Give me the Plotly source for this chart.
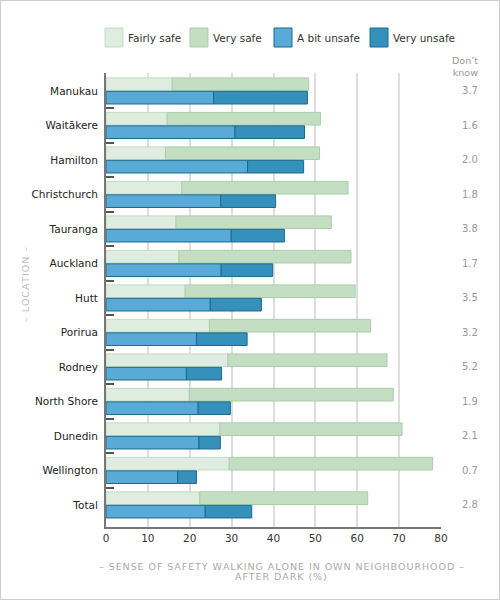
import plotly.graph_objects as go

locations = ["Manukau", "Waitākere", "Hamilton", "Christchurch", "Tauranga", "Auckland",
             "Hutt", "Porirua", "Rodney", "North Shore", "Dunedin", "Wellington", "Total"]
fairly_safe = [15.8, 14.6, 14.2, 18.1, 16.7, 17.4, 18.9, 24.7, 29.1, 19.9, 27.2, 29.4, 22.4]
very_safe = [32.6, 36.6, 36.8, 39.7, 37.1, 41.1, 40.6, 38.5, 38.0, 48.7, 43.5, 48.6, 40.1]
bit_unsafe = [25.7, 30.8, 33.8, 27.4, 29.9, 27.5, 24.9, 21.6, 19.2, 22.0, 22.2, 17.1, 23.7]
very_unsafe = [22.4, 16.6, 13.4, 13.1, 12.7, 12.3, 12.2, 12.1, 8.4, 7.7, 5.1, 4.5, 11.1]
dont_know = ["3.7", "1.6", "2.0", "1.8", "3.8", "1.7", "3.5", "3.2", "5.2", "1.9", "2.1", "0.7", "2.8"]

series_names = ["Fairly safe", "Very safe", "A bit unsafe", "Very unsafe"]
fills = ["#deeddf", "#c4dec4", "#5aaad7", "#3590bc"]
lines = ["#c3dcc3", "#a9cea9", "#1b6a8c", "#1b6a8c"]

W, H = 500, 600
L, R, T, B = 106, 59, 73, 73
PW, PH = W - L - R, H - T - B

def px(x):
    return (x - L) / PW

def py(y):
    return 1 - (y - T) / PH

def spaced(s, sep="\u200a"):
    return sep.join(list(s))

fig = go.Figure()
fig.add_trace(go.Bar(y=locations, x=fairly_safe, orientation="h", name=series_names[0],
                     offsetgroup="safe", marker=dict(color=fills[0], line=dict(color=lines[0], width=1))))
fig.add_trace(go.Bar(y=locations, x=very_safe, base=fairly_safe, orientation="h", name=series_names[1],
                     offsetgroup="safe", marker=dict(color=fills[1], line=dict(color=lines[1], width=1))))
fig.add_trace(go.Bar(y=locations, x=bit_unsafe, orientation="h", name=series_names[2],
                     offsetgroup="unsafe", marker=dict(color=fills[2], line=dict(color=lines[2], width=1))))
fig.add_trace(go.Bar(y=locations, x=very_unsafe, base=bit_unsafe, orientation="h", name=series_names[3],
                     offsetgroup="unsafe", marker=dict(color=fills[3], line=dict(color=lines[3], width=1))))

shapes = []
annotations = []

# custom legend
legend_x = [105, 190, 274, 370]
for name, fc, lc, x0 in zip(series_names, fills, lines, legend_x):
    shapes.append(dict(type="rect", xref="paper", yref="paper",
                       x0=px(x0), x1=px(x0 + 18), y0=py(47), y1=py(28),
                       fillcolor=fc, line=dict(color=lc, width=1)))
    annotations.append(dict(xref="paper", yref="paper", x=px(x0 + 21), y=py(38),
                            text=name, showarrow=False, xanchor="left", yanchor="middle",
                            font=dict(family="DejaVu Sans", size=10.5, color="#333")))

# don't know column
annotations.append(dict(xref="paper", yref="paper", x=px(480), y=py(67), text="Don’t<br>know",
                        showarrow=False, xanchor="right", yanchor="middle", align="right",
                        font=dict(family="DejaVu Sans", size=9.5, color="#999")))
for loc, v in zip(locations, dont_know):
    annotations.append(dict(xref="paper", yref="y", x=px(480), y=loc, text=v, showarrow=False,
                            xanchor="right", yanchor="middle",
                            font=dict(family="DejaVu Sans", size=10, color="#999")))

# axis titles
annotations.append(dict(xref="paper", yref="paper", x=px(281), y=py(566),
                        text=spaced("– SENSE OF SAFETY WALKING ALONE IN OWN NEIGHBOURHOOD –"),
                        showarrow=False, xanchor="center", yanchor="middle",
                        font=dict(family="DejaVu Sans", size=9.5, color="#aaa")))
annotations.append(dict(xref="paper", yref="paper", x=px(281), y=py(576),
                        text=spaced("AFTER DARK (%)"),
                        showarrow=False, xanchor="center", yanchor="middle",
                        font=dict(family="DejaVu Sans", size=9.5, color="#aaa")))
annotations.append(dict(xref="paper", yref="paper", x=px(25), y=py(285),
                        text=spaced("– LOCATION –"), textangle=-90,
                        showarrow=False, xanchor="center", yanchor="middle",
                        font=dict(family="DejaVu Sans", size=9.5, color="#bbb")))

# outer frame
shapes.append(dict(type="rect", xref="paper", yref="paper", layer="below",
                   x0=px(0.5), x1=px(W - 0.5), y0=py(H - 0.5), y1=py(0.5),
                   line=dict(color="#cccccc", width=1), fillcolor="rgba(0,0,0,0)"))

fig.update_layout(
    width=W, height=H,
    margin=dict(l=L, r=R, t=T, b=B, autoexpand=False),
    paper_bgcolor="white", plot_bgcolor="white",
    barmode="group", bargap=0.22, bargroupgap=0.06,
    showlegend=False, hovermode=False,
    shapes=shapes, annotations=annotations,
    font=dict(family="DejaVu Sans", size=10.5, color="#333"),
    xaxis=dict(range=[0, 80], dtick=10, showgrid=True, gridcolor="#dddddd", gridwidth=2,
               zeroline=False, showline=True, linecolor="#777", linewidth=2,
               ticks="", tickfont=dict(size=10.5, color="#333"), automargin=False),
    yaxis=dict(type="category", categoryorder="array", categoryarray=locations,
               range=[12.64, -0.52], showgrid=False, zeroline=False,
               showline=True, linecolor="#777", linewidth=2,
               ticks="inside", tickson="boundaries", ticklen=8, tickcolor="#555", tickwidth=2,
               ticklabelstandoff=4, tickfont=dict(size=10.5, color="#222"), automargin=False),
)

fig.write_html("out.html", config={"displayModeBar": False},
               post_script="document.body.style.margin='0';document.body.style.padding='0';")
